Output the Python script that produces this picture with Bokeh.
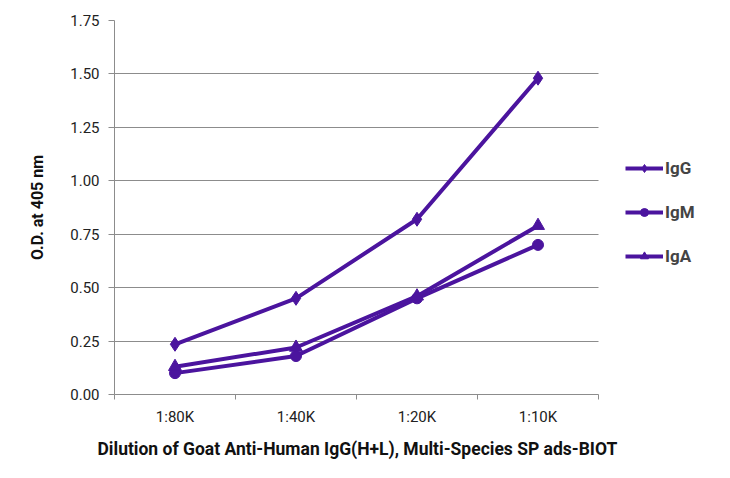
from bokeh.plotting import figure
from bokeh.models import FixedTicker, Legend, LegendItem, Range1d, NumeralTickFormatter, Title
from bokeh.embed import file_html
from bokeh.resources import INLINE

categories = ["1:80K", "1:40K", "1:20K", "1:10K"]
igg = [0.235, 0.45, 0.82, 1.48]
igm = [0.10, 0.18, 0.45, 0.70]
iga = [0.13, 0.22, 0.46, 0.79]
y_ticks = [0.0, 0.25, 0.5, 0.75, 1.0, 1.25, 1.5, 1.75]
x_title = "Dilution of Goat Anti-Human IgG(H+L), Multi-Species SP ads-BIOT"

color = "#4b149e"
font = "Roboto"
n = len(categories)
xs = [i + 0.5 for i in range(n)]

# frame spans the plot area plus the legend area on the right (121 px per category)
p = figure(frame_width=608, frame_height=374, output_backend="svg", toolbar_location=None,
           x_range=Range1d(0, 608 / 121), y_range=Range1d(0, 1.75),
           min_border_left=114, min_border_right=0, min_border_top=20, min_border_bottom=10)
p.outline_line_color = None

p.xgrid.grid_line_color = None
p.ygrid.grid_line_color = "#8c8c8c"
p.ygrid.grid_line_width = 1
try:
    p.ygrid.cross_bounds = (0, n)
except Exception:
    p.ygrid.grid_line_color = None
    p.segment(x0=[0] * len(y_ticks), x1=[n] * len(y_ticks), y0=y_ticks, y1=y_ticks,
              line_color="#8c8c8c", line_width=1)

r1 = p.line(xs, igg, line_color=color, line_width=4)
m1 = p.scatter(xs, igg, marker="diamond", size=14, fill_color=color, line_color=color)
r2 = p.line(xs, igm, line_color=color, line_width=4)
m2 = p.scatter(xs, igm, marker="circle", size=11, fill_color=color, line_color=color)
r3 = p.line(xs, iga, line_color=color, line_width=4)
m3 = p.scatter(xs, iga, marker="triangle", size=13, fill_color=color, line_color=color)

p.xaxis.bounds = (0, n)
p.xaxis.ticker = FixedTicker(ticks=xs, minor_ticks=list(range(n + 1)))
p.xaxis.major_label_overrides = {x: c for x, c in zip(xs, categories)}
p.xaxis.major_tick_line_color = None
p.xaxis.minor_tick_line_color = "#8c8c8c"
p.xaxis.minor_tick_out = 5
p.xaxis.minor_tick_in = 0
p.xaxis.axis_line_color = "#8c8c8c"
p.xaxis.major_label_text_font = font
p.xaxis.major_label_text_font_size = "15px"
p.xaxis.major_label_text_color = "#222222"
p.xaxis.major_label_standoff = 7

title = Title(text=x_title, align="left", offset=-17, standoff=16,
              text_font=font, text_font_style="bold", text_font_size="17.5px",
              text_color="#111111")
p.add_layout(title, "below")

p.yaxis.ticker = FixedTicker(ticks=y_ticks, minor_ticks=[])
p.yaxis.formatter = NumeralTickFormatter(format="0.00")
p.yaxis.major_tick_line_color = "#8c8c8c"
p.yaxis.major_tick_out = 6
p.yaxis.major_tick_in = 0
p.yaxis.axis_line_color = "#8c8c8c"
p.yaxis.major_label_text_font = font
p.yaxis.major_label_text_font_size = "15px"
p.yaxis.major_label_text_color = "#222222"
p.yaxis.major_label_standoff = 9
p.yaxis.axis_label = "O.D. at 405 nm"
p.yaxis.axis_label_text_font = font
p.yaxis.axis_label_text_font_style = "bold"
p.yaxis.axis_label_text_font_size = "16px"
p.yaxis.axis_label_standoff = 20
p.yaxis.axis_label_text_color = "#111111"

legend = Legend(items=[
    LegendItem(label="IgG", renderers=[r1, m1]),
    LegendItem(label="IgM", renderers=[r2, m2]),
    LegendItem(label="IgA", renderers=[r3, m3]),
], location=(511, 128), glyph_width=38, glyph_height=20, spacing=24,
   label_text_font=font, label_text_font_style="bold", label_text_font_size="17px",
   label_standoff=2, border_line_color=None, background_fill_alpha=0,
   margin=0, padding=0)
p.add_layout(legend, "center")

open("out.html", "w").write(file_html(p, INLINE))
